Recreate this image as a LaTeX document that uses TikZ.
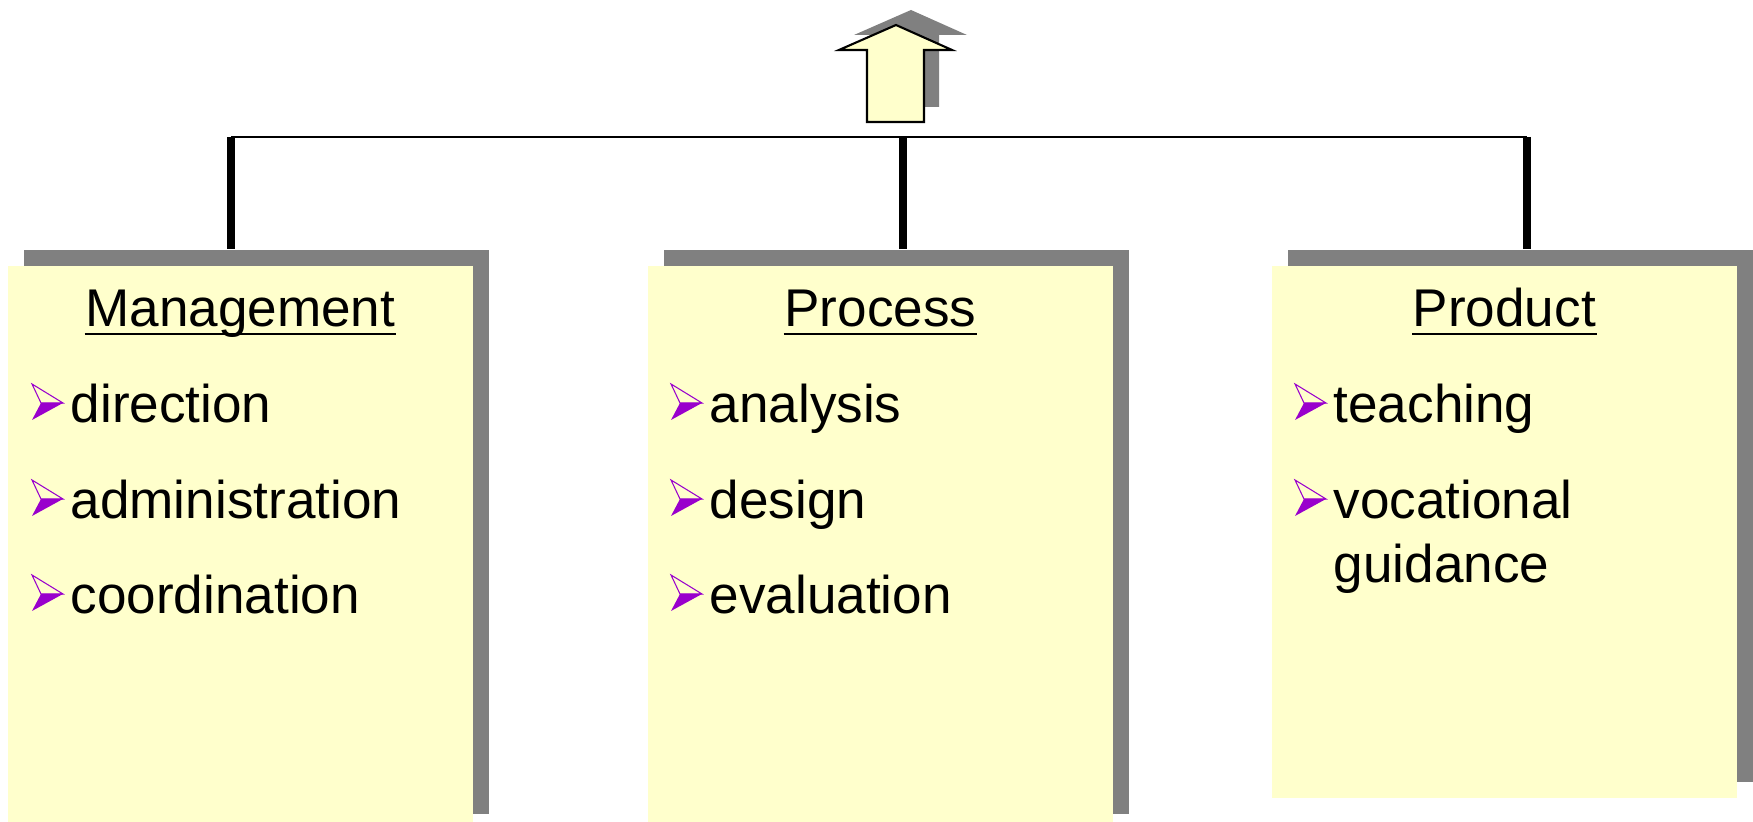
\documentclass[tikz,border=0pt]{standalone}
\usepackage{fontspec}
\setmainfont{Liberation Sans}
\usepackage{tikz}
\usetikzlibrary{shadows}
\definecolor{cardyellow}{HTML}{FFFFCC}
\definecolor{shadowgray}{HTML}{808080}
\definecolor{bulletpurple}{HTML}{9900CC}
\tikzstyle{card} = [fill=cardyellow, anchor=north west, inner sep=0pt, minimum width=4.65cm, drop shadow={shadow xshift=0.16cm, shadow yshift=0.16cm, fill=shadowgray, opacity=1}]
\tikzstyle{head} = [anchor=base, inner sep=0pt, font=\fontsize{15.1}{18.2}\selectfont]
\tikzstyle{item} = [anchor=base west, inner sep=0pt, font=\fontsize{15.1}{18.2}\selectfont]
\tikzstyle{stem} = [line width=0.08cm]
\tikzstyle{bus} = [line width=0.45pt]
\tikzstyle{uline} = [line width=0.028cm]
\tikzset{pointer/.pic={
	\draw[bulletpurple, line width=0.3pt, line join=miter] (-38,-39) -- (-7,-20) -- (-29,-20) -- cycle;
	\fill[bulletpurple] (-29,-20) -- (-7,-20) -- (-38,-3) -- cycle;
}}

\begin{document}
\begin{tikzpicture}[x=0.01cm, y=-0.01cm]
			\useasboundingbox (0,0) rectangle (1753,822);
			\clip (0,0) rectangle (1753,822);
			% up arrow with its shadow
			\fill [shadowgray, shift={(15,-15)}] (896,25) -- (952,50) -- (924,50) -- (924,122) -- (867,122) -- (867,50) -- (839,50) -- cycle;
			\filldraw [fill=cardyellow, line width=0.6pt, line join=miter] (896,25) -- (952,50) -- (924,50) -- (924,122) -- (867,122) -- (867,50) -- (839,50) -- cycle;
			% cards
			\node [card, minimum height=5.64cm] (mgmt) at (7,265) {};
			\node [card, minimum height=5.64cm] (proc) at (647,265) {};
			\node [card, minimum height=5.32cm] (prod) at (1271,265) {};
			% connectors
			\coordinate (bus1) at (231,137);
			\coordinate (bus2) at (903,137);
			\coordinate (bus3) at (1527,137);
			\draw [bus] (bus1) -- (bus3);
			\draw [stem] (bus1) -- ([yshift=0.16cm]bus1 |- mgmt.north);
			\draw [stem] (bus2) -- ([yshift=0.16cm]bus2 |- proc.north);
			\draw [stem] (bus3) -- ([yshift=0.16cm]bus3 |- prod.north);
			% headings
			\node [head] (mgmt-h) at (mgmt.north |- 0,327) {Management};
			\node [head] (proc-h) at (proc.north |- 0,327) {Process};
			\node [head] (prod-h) at (prod.north |- 0,327) {Product};
			\draw [uline] ([yshift=-0.07cm]mgmt-h.base west) -- ([yshift=-0.07cm]mgmt-h.base east);
			\draw [uline] ([yshift=-0.07cm]proc-h.base west) -- ([yshift=-0.07cm]proc-h.base east);
			\draw [uline] ([yshift=-0.07cm]prod-h.base west) -- ([yshift=-0.07cm]prod-h.base east);
			% items
			\node [item] (direction) at (70,423) {direction};
			\node [item] (admin) at (70,519) {administration};
			\node [item] (coord) at (70,614) {coordination};
			\node [item] (analysis) at (709,423) {analysis};
			\node [item] (design) at (709,519) {design};
			\node [item] (evaluation) at (709,614) {evaluation};
			\node [item] (teaching) at (1333,423) {teaching};
			\node [item] (vocational) at (1333,519) {vocational};
			\node [item] (guidance) at (1333,583) {guidance};
			\foreach \n in {direction, admin, coord, analysis, design, evaluation, teaching, vocational}
				\pic at (\n.base west) {pointer};
		\end{tikzpicture}
\end{document}
